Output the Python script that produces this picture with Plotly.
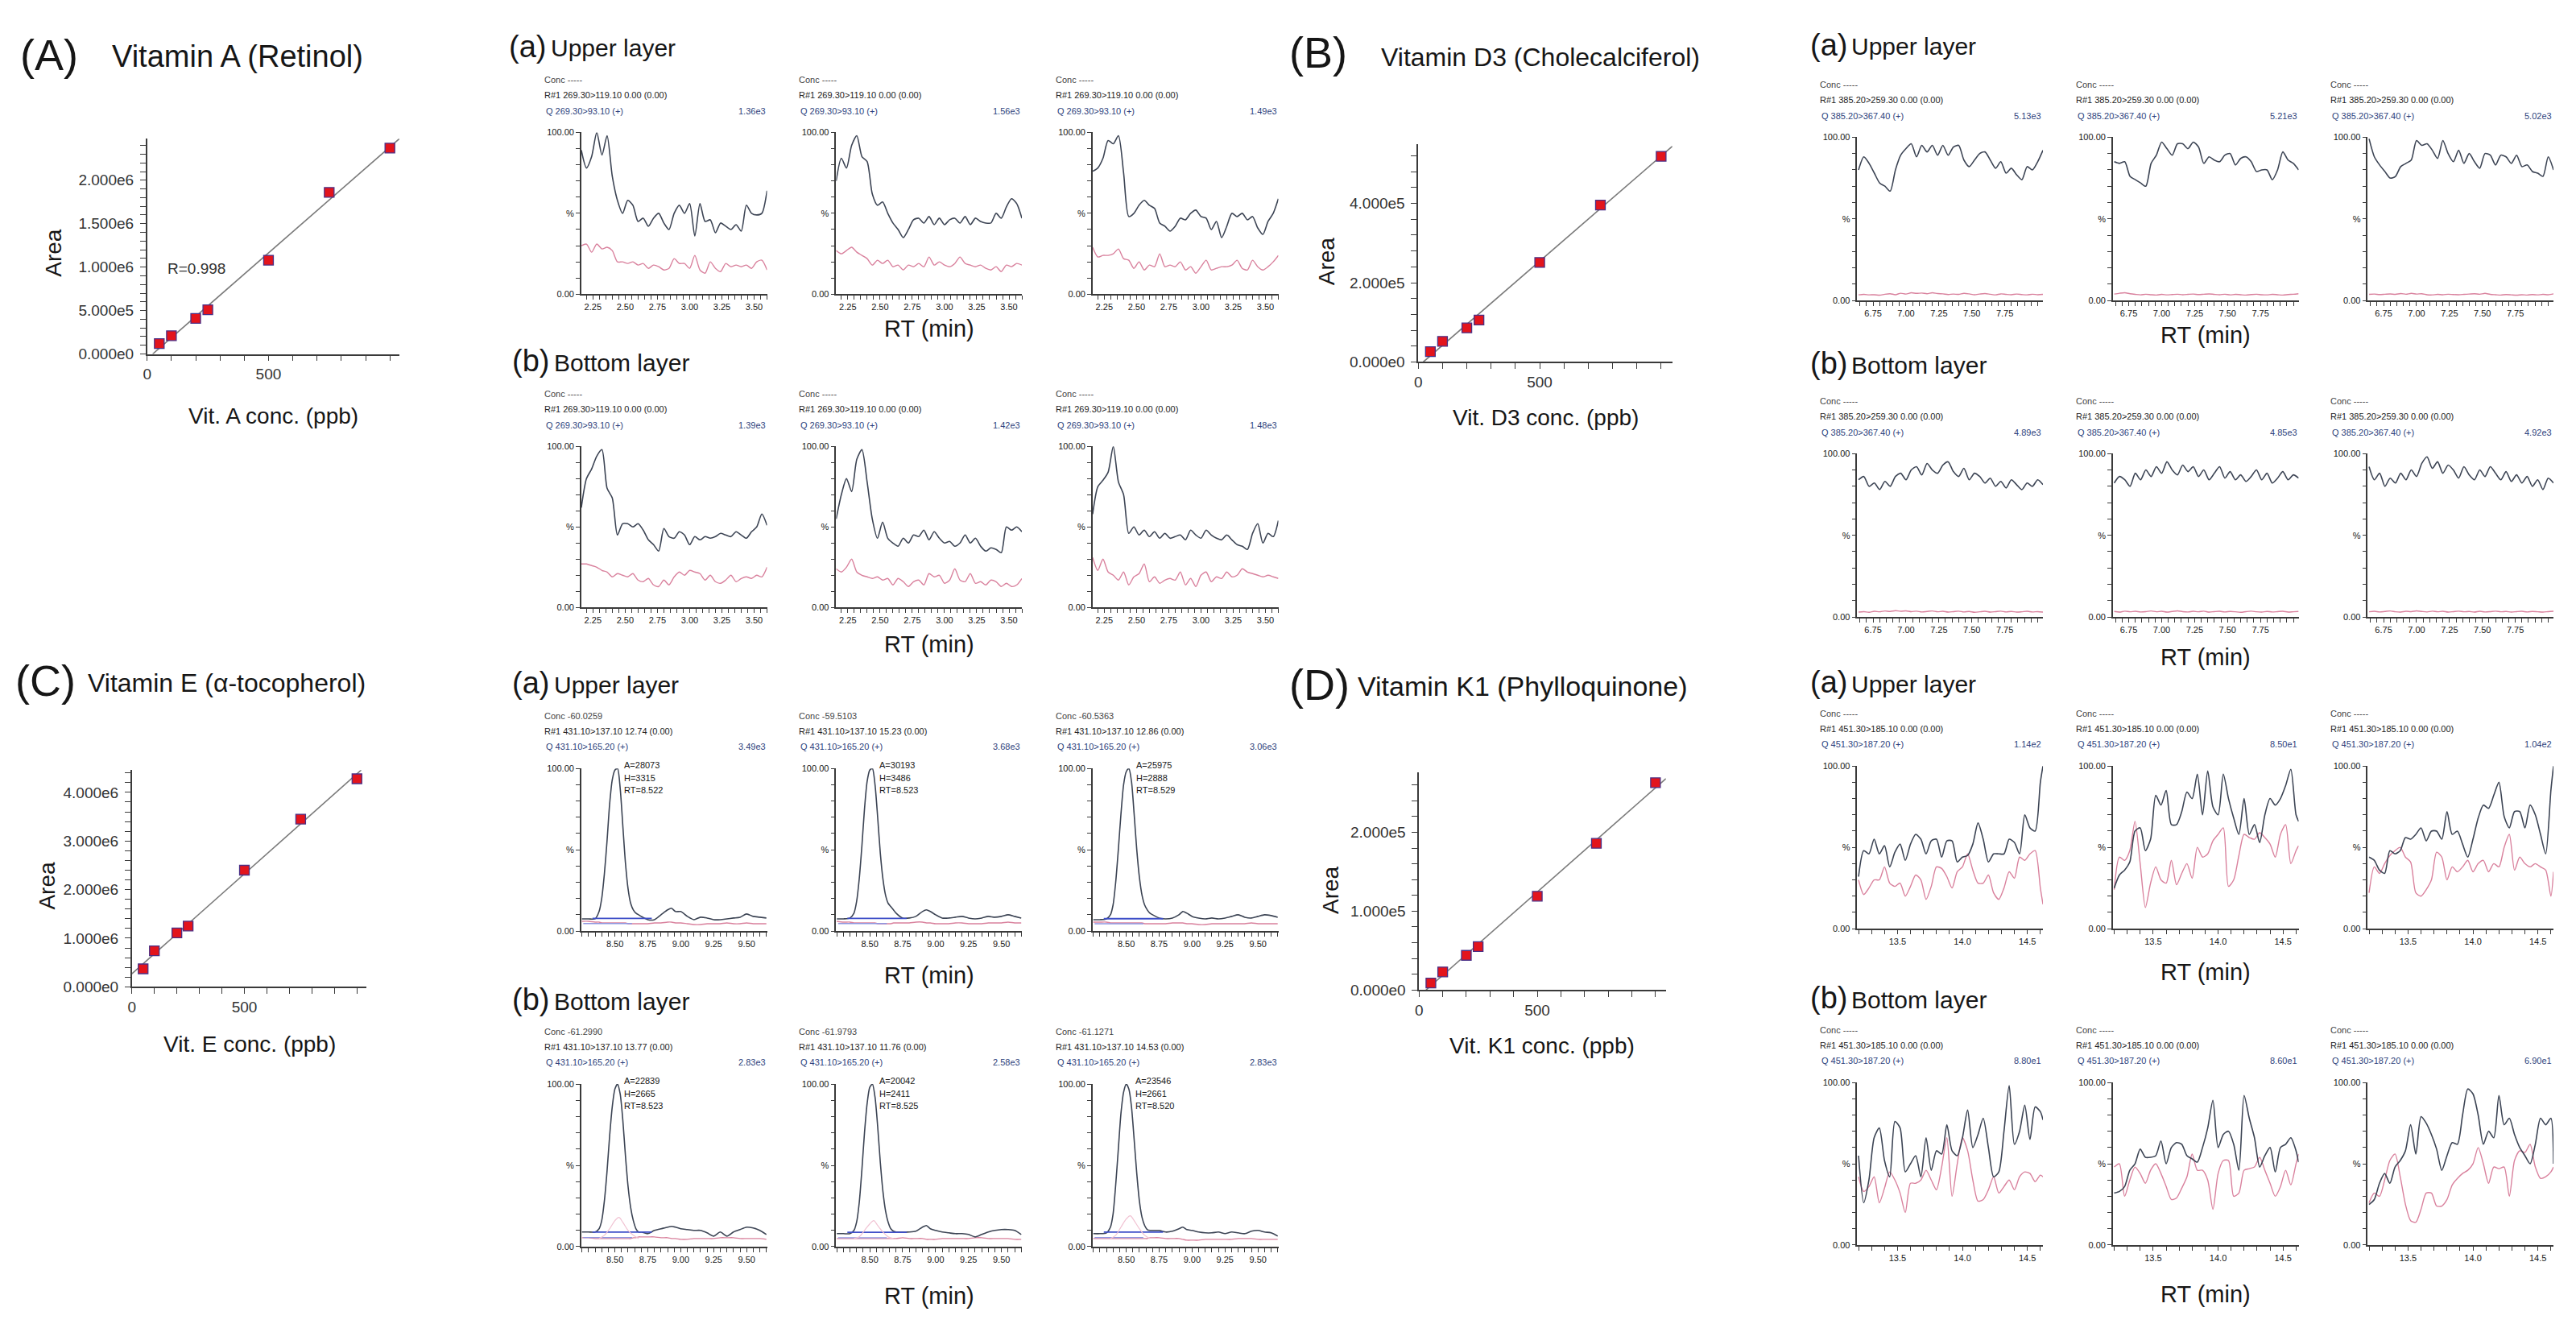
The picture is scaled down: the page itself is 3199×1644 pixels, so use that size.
import numpy as np
import plotly.graph_objects as go

# ---------------- calibration curves (ppb vs peak area) ----------------
conc_ppb = [50, 100, 200, 250, 500, 750, 1000]
area_vit_a = [1.2e5, 2.1e5, 4.1e5, 5.1e5, 1.08e6, 1.86e6, 2.37e6]
area_vit_d3 = [2.6e4, 5.2e4, 8.6e4, 1.06e5, 2.51e5, 3.96e5, 5.19e5]
area_vit_e = [3.7e5, 7.4e5, 1.11e6, 1.25e6, 2.40e6, 3.45e6, 4.28e6]
area_vit_k1 = [8.8e3, 2.3e4, 4.4e4, 5.5e4, 1.19e5, 1.86e5, 2.63e5]

ylab_vit_a = ["0.000e0", "5.000e5", "1.000e6", "1.500e6", "2.000e6"]
ylab_vit_d3 = ["0.000e0", "2.000e5", "4.000e5"]
ylab_vit_e = ["0.000e0", "1.000e6", "2.000e6", "3.000e6", "4.000e6"]
ylab_vit_k1 = ["0.000e0", "1.000e5", "2.000e5"]
xlab_conc = ["0", "500"]

# ---------------- chromatograms (% of max) ----------------
# Vitamin A
rt_vit_a = [2.16, 2.20, 2.24, 2.28, 2.32, 2.36, 2.40, 2.44, 2.48, 2.52, 2.56, 2.60, 2.64,
            2.68, 2.72, 2.76, 2.80, 2.84, 2.88, 2.92, 2.96, 3.00, 3.04, 3.08, 3.12, 3.16,
            3.20, 3.24, 3.28, 3.32, 3.36, 3.40, 3.44, 3.48, 3.52, 3.56, 3.60]
xlab_vit_a = ["2.25", "2.50", "2.75", "3.00", "3.25", "3.50"]
vitA_upper_dark = [
    [89, 78, 85, 100, 86, 98, 73, 58, 50, 58, 55, 45, 47, 42, 47, 50, 44, 40, 50, 55, 50, 56, 36, 56, 45, 46, 38, 44, 42, 40, 43, 39, 55, 50, 49, 50, 64],
    [70, 84, 78, 92, 98, 85, 82, 62, 55, 57, 50, 44, 40, 35, 40, 46, 47, 44, 48, 43, 47, 43, 46, 47, 44, 48, 43, 47, 45, 44, 44, 50, 47, 54, 59, 56, 47],
    [76, 78, 84, 95, 93, 98, 75, 48, 50, 55, 58, 55, 53, 44, 42, 39, 42, 47, 46, 50, 52, 48, 47, 40, 45, 35, 42, 50, 48, 50, 46, 48, 41, 37, 45, 50, 59],
]
vitA_upper_pink = [
    [30, 31, 26, 31, 28, 29, 27, 20, 20, 19, 20, 18, 19, 16, 18, 17, 15, 16, 22, 19, 19, 16, 24, 15, 13, 20, 16, 14, 19, 17, 18, 17, 18, 16, 20, 21, 15],
    [27, 25, 27, 29, 26, 24, 22, 18, 21, 19, 21, 17, 18, 15, 18, 17, 19, 17, 23, 18, 20, 18, 17, 19, 23, 19, 18, 17, 18, 16, 15, 17, 14, 18, 17, 19, 18],
    [29, 23, 24, 24, 25, 28, 22, 21, 16, 20, 15, 18, 17, 25, 17, 18, 17, 20, 15, 17, 13, 17, 21, 15, 16, 17, 17, 18, 21, 16, 15, 21, 17, 15, 17, 20, 24],
]
vitA_bottom_dark = [
    [62, 80, 86, 94, 98, 74, 68, 45, 52, 52, 50, 52, 48, 42, 39, 35, 49, 44, 43, 47, 45, 39, 44, 42, 44, 43, 44, 46, 45, 44, 47, 45, 43, 47, 50, 58, 51],
    [55, 70, 80, 72, 92, 98, 78, 55, 43, 53, 43, 40, 38, 43, 40, 45, 44, 48, 42, 47, 43, 40, 41, 38, 40, 45, 40, 43, 38, 35, 37, 36, 34, 50, 48, 50, 47],
    [58, 75, 79, 84, 100, 78, 70, 46, 50, 45, 48, 44, 47, 43, 46, 43, 44, 45, 42, 48, 45, 43, 48, 45, 43, 42, 45, 42, 39, 38, 36, 46, 52, 40, 46, 44, 54],
]
vitA_bottom_pink = [
    [27, 27, 26, 25, 23, 22, 19, 21, 20, 19, 21, 17, 16, 18, 14, 13, 17, 14, 19, 22, 20, 23, 22, 21, 17, 20, 16, 15, 17, 20, 16, 18, 19, 18, 20, 19, 25],
    [24, 22, 25, 30, 22, 20, 19, 18, 19, 17, 18, 14, 18, 16, 13, 16, 17, 14, 21, 19, 20, 15, 17, 24, 17, 16, 21, 15, 16, 14, 17, 16, 13, 15, 13, 14, 18],
    [31, 23, 30, 22, 20, 17, 22, 14, 19, 21, 27, 16, 19, 15, 17, 18, 17, 22, 14, 18, 13, 20, 22, 16, 19, 18, 22, 19, 20, 24, 22, 21, 20, 19, 20, 19, 18],
]
vitA_upper_scale = ["1.36e3", "1.56e3", "1.49e3"]
vitA_bottom_scale = ["1.39e3", "1.42e3", "1.48e3"]
vitA_mrm = ["R#1 269.30>119.10 0.00 (0.00)", "Q 269.30>93.10 (+)"]

# Vitamin D3
rt_vit_d3 = [6.64, 6.68, 6.72, 6.76, 6.80, 6.84, 6.88, 6.92, 6.96, 7.00, 7.04, 7.08,
             7.12, 7.16, 7.20, 7.24, 7.28, 7.32, 7.36, 7.40, 7.44, 7.48, 7.52, 7.56,
             7.60, 7.64, 7.68, 7.72, 7.76, 7.80, 7.84, 7.88, 7.92, 7.96, 8.00, 8.04]
xlab_vit_d3 = ["6.75", "7.00", "7.25", "7.50", "7.75"]
vitD_upper_dark = [
    [80, 88, 84, 78, 72, 70, 67, 80, 89, 93, 96, 88, 95, 91, 95, 89, 95, 89, 94, 95, 86, 82, 86, 90, 91, 86, 81, 85, 78, 81, 77, 74, 82, 80, 85, 92],
    [85, 84, 85, 76, 74, 72, 70, 84, 89, 97, 93, 89, 96, 96, 93, 97, 94, 84, 88, 86, 85, 89, 90, 83, 87, 88, 85, 79, 80, 80, 74, 80, 91, 86, 84, 80],
    [99, 88, 83, 79, 75, 76, 82, 84, 86, 98, 95, 96, 92, 87, 98, 90, 85, 92, 84, 90, 85, 81, 90, 89, 83, 89, 88, 84, 89, 82, 83, 79, 78, 76, 88, 80],
]
vitD_upper_pink = [
    [3.5, 3.8, 3.5, 3.6, 3.3, 3.9, 4.2, 3.6, 4.5, 4.0, 4.8, 4.4, 4.6, 4.2, 4.8, 4.3, 4.1, 3.7, 4.0, 3.8, 4.4, 4.1, 3.6, 4.0, 4.3, 3.9, 3.5, 4.1, 3.8, 3.6, 4.0, 3.7, 3.5, 3.9, 3.6, 3.8],
    [4.0, 4.5, 4.8, 4.2, 3.8, 3.5, 3.9, 3.6, 3.4, 3.8, 3.5, 3.7, 3.9, 3.6, 3.8, 4.0, 3.7, 3.9, 4.1, 3.8, 3.6, 3.9, 3.5, 3.8, 3.6, 3.4, 3.7, 3.9, 3.6, 3.5, 3.8, 3.6, 3.4, 3.7, 3.9, 4.2],
    [3.8, 4.0, 3.7, 3.9, 4.1, 3.8, 4.3, 3.9, 4.4, 4.0, 4.2, 3.6, 3.5, 3.8, 3.6, 3.9, 3.7, 3.6, 3.8, 4.0, 4.2, 3.9, 4.4, 3.8, 3.6, 3.4, 3.7, 3.5, 3.3, 3.6, 3.4, 3.7, 3.5, 3.8, 3.6, 4.1],
]
vitD_bottom_dark = [
    [84, 86, 80, 82, 78, 83, 80, 86, 88, 84, 90, 92, 87, 94, 90, 88, 93, 95, 89, 86, 91, 84, 88, 86, 82, 85, 80, 83, 79, 84, 81, 78, 82, 80, 84, 81],
    [82, 86, 84, 80, 88, 84, 90, 86, 92, 88, 95, 90, 87, 93, 89, 92, 86, 90, 84, 88, 92, 85, 89, 84, 87, 83, 86, 90, 84, 88, 82, 85, 89, 84, 87, 85],
    [92, 84, 88, 80, 85, 82, 88, 84, 90, 86, 94, 98, 91, 95, 88, 93, 90, 85, 92, 87, 84, 90, 86, 92, 88, 84, 89, 83, 87, 82, 86, 80, 84, 78, 85, 82],
]
vitD_bottom_pink = [
    [3.0, 3.3, 2.9, 3.5, 3.2, 3.7, 3.4, 3.9, 3.5, 3.8, 3.3, 3.6, 3.1, 3.4, 3.7, 3.2, 3.5, 3.0, 3.3, 3.6, 3.1, 3.4, 2.9, 3.2, 3.5, 3.0, 3.3, 3.6, 3.1, 3.4, 3.0, 3.2, 3.5, 3.1, 3.3, 3.0],
    [3.4, 3.0, 3.6, 3.2, 3.5, 3.1, 3.3, 3.7, 3.2, 3.5, 3.0, 3.4, 3.8, 3.3, 3.1, 3.5, 3.2, 3.6, 3.0, 3.3, 3.5, 3.1, 3.4, 3.2, 2.9, 3.3, 3.6, 3.2, 3.0, 3.4, 3.1, 3.3, 3.5, 3.0, 3.2, 3.4],
    [3.2, 3.5, 3.1, 3.4, 3.7, 3.2, 3.0, 3.5, 3.3, 3.8, 3.4, 3.1, 3.6, 3.2, 3.5, 3.0, 3.3, 3.6, 3.2, 3.4, 3.0, 3.5, 3.1, 3.3, 3.6, 3.2, 3.4, 3.0, 3.3, 3.5, 3.1, 3.4, 3.2, 3.0, 3.3, 3.5],
]
vitD_upper_scale = ["5.13e3", "5.21e3", "5.02e3"]
vitD_bottom_scale = ["4.89e3", "4.85e3", "4.92e3"]
vitD_mrm = ["R#1 385.20>259.30 0.00 (0.00)", "Q 385.20>367.40 (+)"]

# Vitamin E
rt_vit_e = [8.25, 8.30, 8.35, 8.38, 8.40, 8.42, 8.44, 8.46, 8.48, 8.50, 8.52, 8.54, 8.56, 8.58,
            8.60, 8.62, 8.64, 8.66, 8.68, 8.70, 8.75, 8.80, 8.85, 8.90, 8.93, 8.96, 9.00, 9.05,
            9.10, 9.15, 9.20, 9.25, 9.30, 9.35, 9.40, 9.45, 9.50, 9.55, 9.60, 9.65]
xlab_vit_e = ["8.50", "8.75", "9.00", "9.25", "9.50"]
vitE_upper_dark = [
    [7.5, 7.5, 7.5, 12, 20, 35, 55, 78, 93, 99, 100, 88, 65, 42, 26, 17, 13, 11, 10, 9, 7, 7, 10, 13, 14, 12, 12, 9, 7, 8.5, 8, 7, 7, 7.5, 8, 8.5, 10.5, 9, 8.5, 8],
    [7.5, 7.5, 8, 11, 18, 32, 52, 75, 92, 99, 100, 90, 70, 48, 32, 22, 17, 15, 13, 11, 8, 8, 9, 12, 13, 12, 10, 8, 8, 8.5, 9, 8, 7.5, 8, 9, 8.5, 9, 10, 9, 8],
    [7, 7, 7.5, 10, 16, 30, 50, 72, 90, 98, 100, 92, 72, 50, 33, 22, 16, 13, 11, 10, 8, 7.5, 8, 10, 12, 11, 9, 8, 7.5, 8, 7.5, 8, 9, 10, 8.5, 8, 9, 10, 9.5, 8.5],
]
vitE_upper_pink = [
    [6, 6, 5.5, 5.5, 5, 5, 5, 5, 5, 5, 5, 5, 5, 5, 4.5, 4.5, 4.5, 4.5, 4.5, 4.5, 4.5, 5, 5, 5.5, 5.5, 5, 5, 4.5, 4, 4, 4.5, 4.5, 4.5, 5, 4.5, 4.5, 5, 4.5, 4.5, 4.5],
    [6, 5.5, 5.5, 5, 5, 5, 5, 5, 5, 5, 5, 5, 4.5, 4.5, 4.5, 4.5, 4.5, 4.5, 5, 5, 5, 5, 5.5, 5.5, 5, 5, 4.5, 4.5, 4.5, 5, 5, 4.5, 4.5, 4.5, 5, 5, 5, 5.5, 5, 5],
    [5.5, 5.5, 5.5, 5, 5, 5, 5, 5, 5, 5, 5, 5, 5, 5, 5, 5, 4.5, 4.5, 4.5, 4.5, 4.5, 4.5, 5, 5, 5, 4.5, 4.5, 4, 4, 4.5, 4.5, 4.5, 4.5, 4.5, 4.5, 5, 4.5, 4.5, 4.5, 4.5],
]
vitE_bottom_dark = [
    [9, 9, 9, 11, 16, 28, 46, 68, 86, 97, 100, 94, 78, 56, 37, 24, 16, 11, 9, 9, 8, 10, 11, 12, 12.5, 12, 11, 10.5, 10, 10, 8.5, 6.5, 9, 6.5, 9, 10.5, 12, 11.5, 10, 7.5],
    [8, 8, 8, 10, 15, 27, 47, 70, 88, 98, 100, 92, 74, 52, 34, 22, 15, 11, 9.5, 9, 9, 9, 9.5, 12, 13, 11, 10, 9, 8.5, 8, 8, 7.5, 6, 7.5, 9, 10, 10.5, 10.5, 10, 7.5],
    [8, 8, 8.5, 12, 20, 38, 60, 82, 95, 100, 97, 86, 66, 45, 28, 18, 13, 10.5, 10, 10, 10, 9, 9.5, 11, 12, 10.5, 10, 9, 8.5, 8.5, 9, 8, 9, 8.5, 8, 9.5, 10, 9, 8.5, 6.5],
]
vitE_bottom_pink = [
    [5.5, 5.5, 5, 5, 5, 5, 5, 5, 5, 5, 5, 5, 5, 5, 5, 5, 5.5, 5.5, 6, 6, 6, 6, 5.5, 5.5, 5, 5, 4.5, 4.5, 5, 5, 5, 5, 5.5, 5.5, 5.5, 5, 5, 5, 5, 4.5],
    [5, 5, 5, 5, 5, 5, 5, 5, 5, 5, 5, 5, 5, 5, 5, 5, 5, 5, 5, 5, 5.5, 5, 5, 5, 4.5, 4.5, 4.5, 5, 5, 5, 5, 5, 5.5, 5.5, 5, 5, 5, 5, 4.5, 4.5],
    [5, 5, 5, 5, 5, 5, 5, 5, 5, 5, 5, 5, 5, 5, 5, 5, 5, 5, 5.5, 5.5, 5.5, 5, 5, 5, 4.5, 4, 4, 4, 4.5, 4.5, 4.5, 4.5, 4.5, 5, 5, 5, 4.5, 4.5, 4.5, 4.5],
]
# faint qualifier peak visible in the bottom-layer traces
rt_vit_e_qual = [8.38, 8.42, 8.46, 8.50, 8.53, 8.56, 8.60, 8.64, 8.68]
vitE_bottom_qual = [
    [5, 7, 11, 16, 18, 15, 10, 7, 5],
    [5, 6, 10, 14, 16, 13, 9, 6, 5],
    [5, 7, 12, 17, 19, 16, 11, 7, 5],
]
# integration baselines
rt_vit_e_base = [8.33, 8.78]
rt_vit_e_lowbase = [8.26, 8.63]
vitE_upper_base = [7.8, 7.8, 7.6]
vitE_bottom_base = [9.0, 8.8, 9.0]
vitE_upper_lowbase = [4.6, 4.6, 4.5]
vitE_bottom_lowbase = [5.6, 5.5, 5.6]
vitE_upper_conc = ["Conc -60.0259", "Conc -59.5103", "Conc -60.5363"]
vitE_bottom_conc = ["Conc -61.2990", "Conc -61.9793", "Conc -61.1271"]
vitE_upper_r1 = ["R#1 431.10>137.10 12.74 (0.00)", "R#1 431.10>137.10 15.23 (0.00)", "R#1 431.10>137.10 12.86 (0.00)"]
vitE_bottom_r1 = ["R#1 431.10>137.10 13.77 (0.00)", "R#1 431.10>137.10 11.76 (0.00)", "R#1 431.10>137.10 14.53 (0.00)"]
vitE_q = "Q 431.10>165.20 (+)"
vitE_upper_scale = ["3.49e3", "3.68e3", "3.06e3"]
vitE_bottom_scale = ["2.83e3", "2.58e3", "2.83e3"]
vitE_upper_area = ["A=28073", "A=30193", "A=25975"]
vitE_upper_height = ["H=3315", "H=3486", "H=2888"]
vitE_upper_rt = ["RT=8.522", "RT=8.523", "RT=8.529"]
vitE_bottom_area = ["A=22839", "A=20042", "A=23546"]
vitE_bottom_height = ["H=2665", "H=2411", "H=2661"]
vitE_bottom_rt = ["RT=8.523", "RT=8.525", "RT=8.520"]

# Vitamin K1
rt_vit_k1 = [13.20, 13.24, 13.28, 13.32, 13.36, 13.40, 13.44, 13.48, 13.52, 13.56, 13.60,
             13.64, 13.68, 13.72, 13.76, 13.80, 13.84, 13.88, 13.92, 13.96, 14.00, 14.04,
             14.08, 14.12, 14.16, 14.20, 14.24, 14.28, 14.32, 14.36, 14.40, 14.44, 14.48,
             14.52, 14.56, 14.60, 14.62]
xlab_vit_k1 = ["13.5", "14.0", "14.5"]
vitK_upper_dark = [
    [32, 48, 46, 55, 46, 51, 38, 47, 52, 42, 52, 58, 55, 46, 54, 55, 44, 54, 54, 41, 44, 45, 52, 65, 55, 41, 46, 46, 46, 55, 53, 46, 70, 62, 60, 90, 100],
    [25, 33, 36, 41, 60, 62, 48, 55, 82, 76, 85, 64, 64, 72, 84, 80, 95, 70, 97, 75, 70, 95, 80, 68, 58, 80, 58, 64, 53, 70, 80, 76, 80, 88, 98, 70, 66],
    [44, 42, 36, 34, 48, 46, 48, 56, 55, 58, 62, 54, 60, 60, 55, 72, 58, 60, 52, 44, 55, 68, 76, 74, 82, 90, 69, 62, 72, 72, 62, 76, 70, 58, 46, 85, 100],
]
vitK_upper_pink = [
    [30, 21, 25, 30, 30, 38, 28, 26, 28, 20, 26, 33, 30, 18, 26, 38, 37, 32, 25, 35, 38, 46, 36, 28, 28, 33, 22, 18, 25, 35, 31, 44, 42, 46, 48, 25, 15],
    [24, 44, 42, 48, 66, 40, 13, 28, 38, 30, 28, 42, 27, 34, 40, 31, 50, 44, 46, 54, 58, 62, 26, 30, 45, 58, 56, 55, 59, 56, 52, 44, 58, 64, 40, 48, 51],
    [22, 38, 34, 40, 45, 48, 50, 44, 41, 22, 20, 24, 30, 47, 44, 30, 38, 35, 38, 42, 35, 40, 42, 35, 40, 38, 50, 58, 36, 44, 40, 38, 40, 38, 36, 20, 35],
]
vitK_bottom_dark = [
    [55, 26, 40, 66, 72, 52, 42, 76, 72, 45, 50, 55, 42, 66, 46, 58, 56, 74, 58, 55, 66, 83, 60, 68, 78, 60, 42, 45, 70, 98, 62, 70, 86, 65, 85, 82, 77],
    [32, 33, 36, 46, 50, 59, 54, 54, 55, 64, 50, 60, 63, 62, 55, 53, 51, 60, 72, 89, 60, 68, 70, 62, 46, 92, 78, 66, 48, 55, 60, 45, 60, 62, 66, 58, 51],
    [25, 28, 38, 44, 38, 48, 52, 58, 74, 56, 79, 75, 68, 59, 46, 55, 63, 62, 80, 96, 93, 80, 62, 70, 66, 92, 74, 78, 68, 60, 55, 50, 62, 78, 74, 78, 50],
]
vitK_bottom_pink = [
    [42, 33, 36, 42, 26, 35, 45, 40, 32, 20, 38, 38, 40, 46, 40, 34, 48, 66, 30, 50, 66, 58, 40, 27, 28, 34, 42, 32, 36, 40, 34, 42, 45, 44, 39, 43, 42],
    [48, 50, 30, 40, 48, 44, 38, 46, 50, 44, 36, 28, 29, 35, 42, 56, 46, 46, 40, 22, 44, 52, 52, 30, 32, 46, 47, 48, 54, 46, 38, 30, 36, 46, 37, 50, 56],
    [26, 32, 30, 40, 52, 56, 42, 25, 15, 14, 22, 32, 32, 24, 24, 28, 37, 41, 44, 46, 50, 60, 50, 38, 48, 47, 48, 30, 52, 58, 57, 62, 48, 41, 42, 45, 48],
]
vitK_upper_scale = ["1.14e2", "8.50e1", "1.04e2"]
vitK_bottom_scale = ["8.80e1", "8.60e1", "6.90e1"]
vitK_mrm = ["R#1 451.30>185.10 0.00 (0.00)", "Q 451.30>187.20 (+)"]

no_conc = ["Conc -----"] * 3

# ---------------- figure helpers ----------------
W, H = 3199, 1644
FONT = "Liberation Sans, Arial, Helvetica, sans-serif"
INK = "#161616"
AXC = "#3a3a3a"
DARK = "#3c4454"
PINK = "#d9819d"
NAVY = "#2d3f7c"
CW = 231

fig = go.Figure()
axes = {}
notes = []
count = [0]


def fx(p):
    return p / W


def fy(p):
    return 1 - p / H


def add_axes(x0, x1, ytop, ybot, xopt, yopt):
    count[0] += 1
    s = "" if count[0] == 1 else str(count[0])
    common = dict(showgrid=False, zeroline=False, showline=True, linecolor=AXC,
                  linewidth=1.6, ticks="outside", tickcolor=AXC, tickwidth=1.3,
                  fixedrange=True)
    axes["xaxis" + s] = dict(domain=[fx(x0), fx(x1)], anchor="y" + s, **common, **xopt)
    axes["yaxis" + s] = dict(domain=[fy(ybot), fy(ytop)], anchor="x" + s, **common, **yopt)
    return "x" + s, "y" + s


def note(text, x, y, size, color=INK, xanchor="left", angle=0):
    notes.append(dict(text=text, x=fx(x), y=fy(y), xref="paper", yref="paper",
                      xanchor=xanchor, yanchor="middle", showarrow=False,
                      textangle=angle, font=dict(family=FONT, size=size, color=color)))


def tick_list(lo, hi, step, labels):
    vals, text = [], []
    k = int(np.ceil(lo / step - 1e-9))
    while k * step <= hi + 1e-9:
        v = round(k * step, 6)
        hit = [lab for lab in labels if abs(float(lab) - v) < 1e-6 * max(1.0, abs(v))]
        vals.append(v)
        text.append(hit[0] if hit else "")
        k += 1
    return vals, text


def calibration(x0, x1, ytop, ybot, xmax, ymax, area, ystep, ylabels):
    xv, xt = tick_list(0, xmax, 100, xlab_conc)
    yv, yt = tick_list(0, ymax, ystep, ylabels)
    tf = dict(family=FONT, size=19, color="#333333")
    xa, ya = add_axes(x0, x1, ytop, ybot,
                      dict(range=[0, xmax], tickvals=xv, ticktext=xt, ticklen=7, tickfont=tf),
                      dict(range=[0, ymax], tickvals=yv, ticktext=yt, ticklen=7, tickfont=tf,
                           ticklabelstandoff=4))
    slope, icpt = np.polyfit(conc_ppb, area, 1)
    lo = max(0.0, -icpt / slope)
    hi = min(xmax, (ymax - icpt) / slope)
    fig.add_trace(go.Scatter(x=[lo, hi], y=[slope * lo + icpt, slope * hi + icpt],
                             xaxis=xa, yaxis=ya, mode="lines", hoverinfo="skip",
                             line=dict(color="#7a7a7a", width=1.6)))
    fig.add_trace(go.Scatter(x=conc_ppb, y=area, xaxis=xa, yaxis=ya, mode="markers",
                             cliponaxis=False,
                             marker=dict(symbol="square", size=12, color="#e3141c",
                                         line=dict(color="#4a2f86", width=1.3))))


def chromatogram(x0, ytop, ybot, rt, xr, step, xlabels, dark, pink, head, scale):
    xv, xt = tick_list(xr[0], xr[1], step, xlabels)
    yv = list(range(0, 101, 10))
    yt = ["0.00" if v == 0 else "%" if v == 50 else "100.00" if v == 100 else "" for v in yv]
    tf = dict(family=FONT, size=11, color=INK)
    xa, ya = add_axes(x0, x0 + CW, ytop, ybot,
                      dict(range=xr, tickvals=xv, ticktext=xt, ticklen=5, tickfont=tf),
                      dict(range=[0, 100], tickvals=yv, ticktext=yt, ticklen=5, tickfont=tf))
    fig.add_trace(go.Scatter(x=rt, y=pink, xaxis=xa, yaxis=ya, mode="lines",
                             hoverinfo="skip",
                             line=dict(color=PINK, width=1.4, shape="spline", smoothing=0.7)))
    fig.add_trace(go.Scatter(x=rt, y=dark, xaxis=xa, yaxis=ya, mode="lines",
                             hoverinfo="skip",
                             line=dict(color=DARK, width=1.6, shape="spline", smoothing=0.7)))
    note(head[0], x0 - 48, ytop - 66, 11, "#444444")
    note(head[1], x0 - 48, ytop - 47, 11, "#222222")
    note(head[2], x0 - 46, ytop - 27, 11, NAVY)
    note(scale, x0 + CW, ytop - 27, 11, NAVY, xanchor="right")
    return xa, ya


def layer(xs, ytop, ybot, rt, xr, step, xlabels, darks, pinks, concs, r1s, q, scales, rt_y):
    refs = []
    for i in range(3):
        refs.append(chromatogram(xs[i], ytop, ybot, rt, xr, step, xlabels, darks[i], pinks[i],
                                 [concs[i], r1s[i], q], scales[i]))
    note("RT (min)", xs[1] + CW / 2, rt_y, 29, xanchor="center")
    return refs


def section(tag, text, x, y):
    note(tag, x, y, 38)
    note(text, x + 52, y + 2, 30)


def peak_marks(refs, areas, heights, rts, bases, lowbases, quals=None):
    for i, (xa, ya) in enumerate(refs):
        fig.add_trace(go.Scatter(x=rt_vit_e_lowbase, y=[lowbases[i]] * 2, xaxis=xa, yaxis=ya,
                                 mode="lines", hoverinfo="skip",
                                 line=dict(color="#8f96e0", width=1.4)))
        fig.add_trace(go.Scatter(x=rt_vit_e_base, y=[bases[i]] * 2, xaxis=xa, yaxis=ya,
                                 mode="lines", hoverinfo="skip",
                                 line=dict(color="#3e4fc8", width=1.8)))
        if quals is not None:
            fig.add_trace(go.Scatter(x=rt_vit_e_qual, y=quals[i], xaxis=xa, yaxis=ya,
                                     mode="lines", hoverinfo="skip",
                                     line=dict(color="#f1c3d3", width=1.2, shape="spline")))
        top = float(rts[i].split("=")[1])
        fig.add_trace(go.Scatter(x=[top], y=[101.5], xaxis=xa, yaxis=ya, mode="markers",
                                 cliponaxis=False, hoverinfo="skip",
                                 marker=dict(symbol="triangle-down", size=9, color="#111111")))
        for lab, yy, shift in zip([areas[i], heights[i], rts[i]], [100, 94, 86.5], [4, 0, 0]):
            notes.append(dict(text=lab, x=top + 0.035, y=yy, yshift=shift, xref=xa, yref=ya,
                              xanchor="left", yanchor="middle", showarrow=False,
                              font=dict(family=FONT, size=11, color=INK)))


# ---------------- panel A: vitamin A ----------------
note("(A)", 10, 55, 54)
note("Vitamin A (Retinol)", 124, 57, 38)
calibration(170, 484, 160, 430, 1040, 2.477e6, area_vit_a, 1e5, ylab_vit_a)
note("Area", 54, 303, 28, angle=-90, xanchor="center")
note("Vit. A conc. (ppb)", 327, 508, 28, xanchor="center")
note("R=0.998", 193, 323, 19, "#333333")

xs_left = [710, 1027, 1346]
xs_right = [2297, 2615, 2932]

section("(a)", "Upper layer", 618, 44)
layer(xs_left, 152, 355, rt_vit_a, [2.16, 3.60], 0.05, xlab_vit_a, vitA_upper_dark,
      vitA_upper_pink, no_conc, [vitA_mrm[0]] * 3, vitA_mrm[1], vitA_upper_scale, 398)
section("(b)", "Bottom layer", 622, 439)
layer(xs_left, 546, 748, rt_vit_a, [2.16, 3.60], 0.05, xlab_vit_a, vitA_bottom_dark,
      vitA_bottom_pink, no_conc, [vitA_mrm[0]] * 3, vitA_mrm[1], vitA_bottom_scale, 794)

# ---------------- panel B: vitamin D3 ----------------
note("(B)", 1588, 52, 54)
note("Vitamin D3 (Cholecalciferol)", 1703, 58, 32)
calibration(1751, 2067, 167, 440, 1046, 5.49e5, area_vit_d3, 4e4, ylab_vit_d3)
note("Area", 1637, 313, 28, angle=-90, xanchor="center")
note("Vit. D3 conc. (ppb)", 1909, 510, 28, xanchor="center")

section("(a)", "Upper layer", 2236, 42)
layer(xs_right, 158, 363, rt_vit_d3, [6.63, 8.04], 0.05, xlab_vit_d3, vitD_upper_dark,
      vitD_upper_pink, no_conc, [vitD_mrm[0]] * 3, vitD_mrm[1], vitD_upper_scale, 406)
section("(b)", "Bottom layer", 2236, 442)
layer(xs_right, 555, 760, rt_vit_d3, [6.63, 8.04], 0.05, xlab_vit_d3, vitD_bottom_dark,
      vitD_bottom_pink, no_conc, [vitD_mrm[0]] * 3, vitD_mrm[1], vitD_bottom_scale, 810)

# ---------------- panel C: vitamin E ----------------
note("(C)", 4, 840, 54)
note("Vitamin E (\u03b1-tocopherol)", 94, 843, 32)
calibration(151, 443, 952, 1224, 1043, 4.46e6, area_vit_e, 2e5, ylab_vit_e)
note("Area", 46, 1097, 28, angle=-90, xanchor="center")
note("Vit. E conc. (ppb)", 297, 1296, 28, xanchor="center")

section("(a)", "Upper layer", 622, 843)
refs = layer(xs_left, 950, 1154, rt_vit_e, [8.245, 9.655], 0.05, xlab_vit_e, vitE_upper_dark,
             vitE_upper_pink, vitE_upper_conc, vitE_upper_r1, vitE_q, vitE_upper_scale, 1210)
peak_marks(refs, vitE_upper_area, vitE_upper_height, vitE_upper_rt,
           vitE_upper_base, vitE_upper_lowbase)
section("(b)", "Bottom layer", 622, 1240)
refs = layer(xs_left, 1346, 1550, rt_vit_e, [8.245, 9.655], 0.05, xlab_vit_e, vitE_bottom_dark,
             vitE_bottom_pink, vitE_bottom_conc, vitE_bottom_r1, vitE_q, vitE_bottom_scale, 1612)
peak_marks(refs, vitE_bottom_area, vitE_bottom_height, vitE_bottom_rt,
           vitE_bottom_base, vitE_bottom_lowbase, vitE_bottom_qual)

# ---------------- panel D: vitamin K1 ----------------
note("(D)", 1588, 845, 54)
note("Vitamin K1 (Phylloquinone)", 1674, 847, 34)
calibration(1752, 2059, 955, 1228, 1044, 2.76e5, area_vit_k1, 2e4, ylab_vit_k1)
note("Area", 1642, 1102, 28, angle=-90, xanchor="center")
note("Vit. K1 conc. (ppb)", 1905, 1298, 28, xanchor="center")

section("(a)", "Upper layer", 2236, 842)
layer(xs_right, 947, 1151, rt_vit_k1, [13.19, 14.62], 0.1, xlab_vit_k1, vitK_upper_dark,
      vitK_upper_pink, no_conc, [vitK_mrm[0]] * 3, vitK_mrm[1], vitK_upper_scale, 1205)
section("(b)", "Bottom layer", 2236, 1238)
layer(xs_right, 1344, 1548, rt_vit_k1, [13.19, 14.62], 0.1, xlab_vit_k1, vitK_bottom_dark,
      vitK_bottom_pink, no_conc, [vitK_mrm[0]] * 3, vitK_mrm[1], vitK_bottom_scale, 1610)

fig.update_layout(**axes)
fig.update_layout(
    annotations=notes,
    width=W, height=H,
    margin=dict(l=0, r=0, t=0, b=0),
    showlegend=False,
    paper_bgcolor="white",
    plot_bgcolor="white",
    font=dict(family=FONT, color=INK),
)

fig.write_html("out.html")
